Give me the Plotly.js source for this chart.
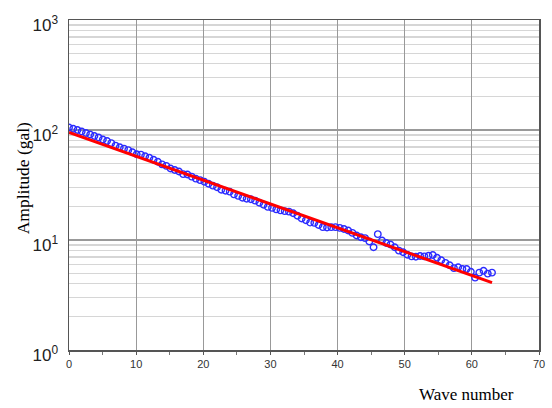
<!DOCTYPE html>
<html>
<head>
<meta charset="utf-8">
<script src="https://cdn.plot.ly/plotly-3.0.1.min.js"></script>
<style>html,body{margin:0;padding:0;background:#fff;}#chart{width:552px;height:408px;}</style>
</head>
<body>
<div id="chart"></div>
<script>
var waveNumber = [0,0.63,1.26,1.89,2.52,3.15,3.78,4.41,5.04,5.67,6.3,6.93,7.56,8.19,8.82,9.45,10.08,10.71,11.34,11.97,12.6,13.23,13.86,14.49,15.12,15.75,16.38,17.01,17.64,18.27,18.9,19.53,20.16,20.79,21.42,22.05,22.68,23.31,23.94,24.57,25.2,25.83,26.46,27.09,27.72,28.35,28.98,29.61,30.24,30.87,31.5,32.13,32.76,33.39,34.02,34.65,35.28,35.91,36.54,37.17,37.8,38.43,39.06,39.69,40.32,40.95,41.58,42.21,42.84,43.47,44.1,44.73,45.36,45.99,46.62,47.25,47.88,48.51,49.14,49.77,50.4,51.03,51.66,52.29,52.92,53.55,54.18,54.81,55.44,56.07,56.7,57.33,57.96,58.59,59.22,59.85,60.48,61.11,61.74,62.37,63.0];
var amplitude = [105.4,102.8,100.1,97.0,94.0,91.1,88.3,85.5,81.9,79.4,76.0,72.1,69.8,67.7,65.6,62.8,60.2,59.7,57.8,56.0,53.6,51.4,48.7,47.2,44.7,43.3,42.0,39.7,39.4,37.7,36.1,35.0,33.9,32.5,31.2,30.2,28.6,28.0,27.5,26.0,25.2,24.2,23.7,23.5,22.8,21.8,20.9,20.0,19.6,19.0,18.6,18.3,18.1,17.5,16.6,15.7,15.1,14.4,14.3,13.7,13.1,13.0,13.1,13.1,12.9,12.6,12.2,11.6,11.0,10.6,10.4,9.7,8.6,11.3,9.9,9.4,9.1,8.6,8.0,7.75,7.35,7.1,7.05,7.15,7.1,7.2,7.3,6.9,6.55,6.2,5.9,5.55,5.65,5.45,5.45,5.15,4.55,5.05,5.25,4.95,5.05];
var fitX = [0, 63];
var fitY = [95, 4.1];
var yTickVals = [1, 10, 100, 1000];
var yTickText = ['10<sup>0</sup>', '10<sup>1</sup>', '10<sup>2</sup>', '10<sup>3</sup>'];
var xTickVals = [0,10,20,30,40,50,60,70];

var traces = [
  {x: waveNumber, y: amplitude, type: 'scatter', mode: 'markers',
   marker: {symbol: 'circle-open', size: 6.5, color: '#2b2bff', line: {width: 1.4, color: '#2b2bff'}},
   showlegend: false, hoverinfo: 'x+y'},
  {x: fitX, y: fitY, type: 'scatter', mode: 'lines',
   line: {color: '#ff0000', width: 3}, showlegend: false}
];

var layout = {
  width: 552, height: 408,
  margin: {l: 69, r: 13, t: 20, b: 58},
  paper_bgcolor: '#ffffff', plot_bgcolor: '#ffffff',
  showlegend: false,
  xaxis: {
    range: [0, 70], tickvals: xTickVals, ticktext: xTickVals.map(String),
    showgrid: true, gridcolor: '#999999', gridwidth: 1.2,
    zeroline: false, showline: true, linecolor: '#555555', linewidth: 1.5, mirror: true,
    ticks: 'outside', ticklen: 3, tickcolor: '#555555',
    minor: {dtick: 5, ticks: 'outside', ticklen: 3, tickcolor: '#777777', showgrid: false},
    tickfont: {family: 'Liberation Sans, Arial, sans-serif', size: 11, color: '#333333'}
  },
  yaxis: {
    type: 'log', range: [0, 3],
    tickvals: yTickVals, ticktext: yTickText,
    showgrid: true, gridcolor: '#999999', gridwidth: 1.2,
    zeroline: false, showline: true, linecolor: '#555555', linewidth: 1.5, mirror: true,
    ticks: '', ticklabelstandoff: 6, ticklabelshift: 5,
    minor: {tickvals: [2,3,4,5,6,7,8,9,20,30,40,50,60,70,80,90,200,300,400,500,600,700,800,900],
            showgrid: true, gridcolor: '#d6d6d6', gridwidth: 1.2, ticks: ''},
    tickfont: {family: 'Liberation Sans, Arial, sans-serif', size: 17, color: '#222222'}
  },
  annotations: [
    {text: 'Wave number', xref: 'paper', yref: 'paper', x: 0.952, y: -0.1, xanchor: 'right', yanchor: 'top',
     showarrow: false, font: {family: 'Liberation Serif, Times New Roman, serif', size: 17, color: '#000000'}},
    {text: 'Amplitude (gal)', xref: 'paper', yref: 'paper', x: -0.098, y: 0.52, xanchor: 'center', yanchor: 'middle',
     textangle: -90, showarrow: false, font: {family: 'Liberation Serif, Times New Roman, serif', size: 17.5, color: '#000000'}}
  ]
};

Plotly.newPlot('chart', traces, layout, {displayModeBar: false, staticPlot: true});
</script>
</body>
</html>
